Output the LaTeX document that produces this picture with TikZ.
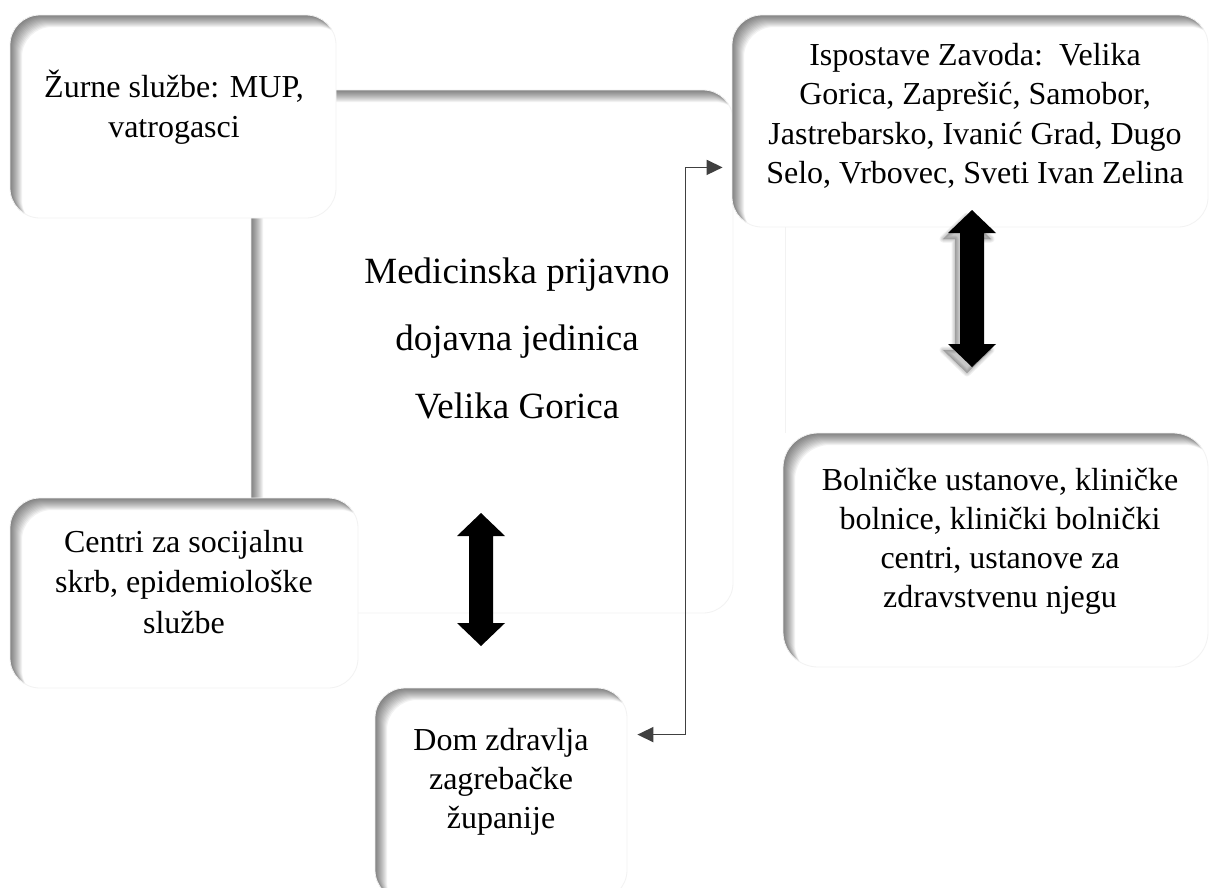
\documentclass[tikz,border=0pt]{standalone}
\usepackage{fontspec}
\setmainfont{Liberation Serif}
\usetikzlibrary{calc,arrows.meta}
\newcommand{\bigdarrow}[3]{(#1,#2) -- (#1+24,#2+23) -- (#1+12,#2+23) -- (#1+12,#3-23) -- (#1+24,#3-23) -- (#1,#3) -- (#1-24,#3-23) -- (#1-12,#3-23) -- (#1-12,#2+23) -- (#1-24,#2+23) -- cycle}
\tikzset{
  shadowbox/.style={rectangle, rounded corners=#1, fill=white, draw=black!5, line width=0.8, inner sep=0pt,
    path picture={
      \foreach \s in {1,...,12}{
        \fill[black, opacity=0.05, even odd rule, rounded corners=#1]
          ([shift={(-60,-60)}]path picture bounding box.north west) rectangle ([shift={(60,60)}]path picture bounding box.south east)
          ([shift={(\s,\s)}]path picture bounding box.north west) rectangle ([shift={(\s,\s)}]path picture bounding box.south east);
      }
    }},
  txt/.style={align=center, inner sep=0pt, anchor=base, font=\fontsize{32}{40}\selectfont},
  conn/.style={draw=black!75, line width=1.6,
    {Triangle[length=16pt,width=15pt]}-{Triangle[length=16pt,width=15pt]}},
}
\begin{document}
\begin{tikzpicture}[x=1pt,y=-1pt]
\useasboundingbox (0,0) rectangle (1209,887);
\fill[white] (0,0) rectangle (1209,887);

% central frame
\node[shadowbox=30, minimum width=482, minimum height=523] (mpdjBox) at (492,351.5) {};
\draw[black!5, line width=0.8] (785,227) -- (785,433);

% boxes
\node[shadowbox=30, minimum width=326, minimum height=203] (zurneBox) at (173,116.5) {};
\node[shadowbox=30, minimum width=476, minimum height=212] (ispBox) at (970,121) {};
\node[shadowbox=30, minimum width=348, minimum height=190] (centriBox) at (184,593) {};
\node[shadowbox=30, minimum width=252, minimum height=212] (domBox) at (501,794) {};
\node[shadowbox=35, minimum width=425, minimum height=234] (bolBox) at (995.5,550) {};

% texts (anchor = baseline of the last line)
\node[txt, font=\fontsize{37}{67.5}\selectfont] (mpdj) at (517,418) {Medicinska prijavno\\dojavna jedinica\\Velika Gorica};
\node[txt] (zurne) at (174,137) {Žurne službe: MUP,\\vatrogasci};
\node[txt, font=\fontsize{32}{39.5}\selectfont] (isp) at (975,183.5) {Ispostave Zavoda:\ \ Velika\\Gorica, Zaprešić, Samobor,\\Jastrebarsko, Ivanić Grad, Dugo\\Selo, Vrbovec, Sveti Ivan Zelina};
\node[txt, font=\fontsize{32}{40.5}\selectfont] (centri) at (184,633) {Centri za socijalnu\\skrb, epidemiološke\\službe};
\node[txt, font=\fontsize{32}{39}\selectfont] (dom) at (501,828) {Dom zdravlja\\zagrebačke\\županije};
\node[txt, font=\fontsize{32}{39}\selectfont] (bol) at (1000,607) {Bolničke ustanove, kliničke\\bolnice, klinički bolnički\\centri, ustanove za\\zdravstvenu njegu};

% thin connector
\coordinate (tipD) at ($(domBox.north east)+(10,47)$);
\coordinate (tipB) at ($(ispBox.south west)+(-9,-60)$);
\draw[conn] (tipD) -- ++(48,0) |- (tipB);

% big double arrows
\fill[black] \bigdarrow{481}{513}{646};
\foreach \w in {1,3,5,7}{
  \filldraw[black, opacity=0.06, line width=\w, line join=round, shift={(-5,6)}] \bigdarrow{972}{210}{367};
}
\fill[black] \bigdarrow{972}{210}{367};
\end{tikzpicture}
\end{document}
